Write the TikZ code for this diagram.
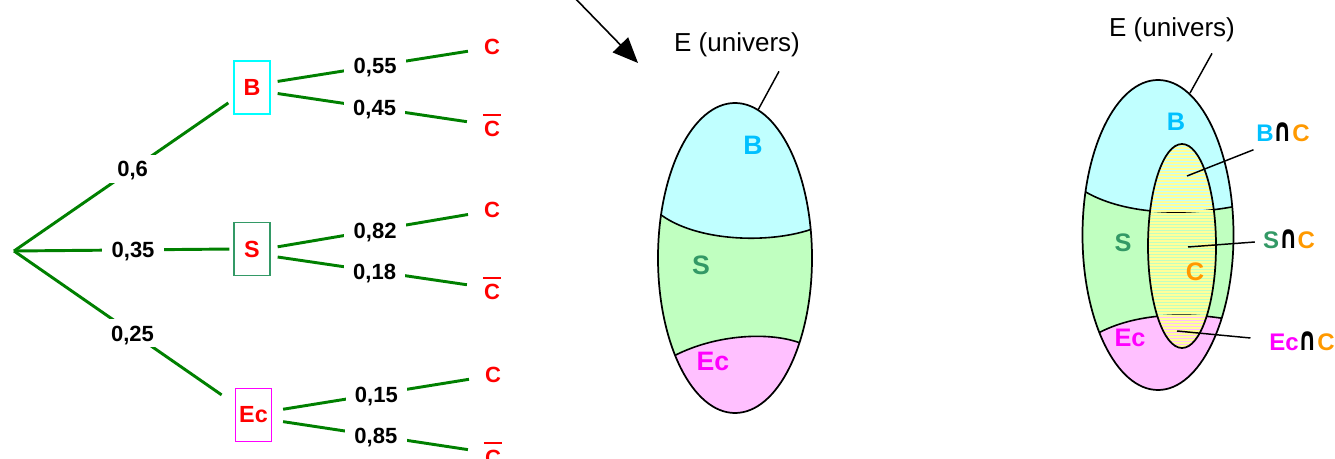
\documentclass[tikz,border=0pt]{standalone}
\usepackage{fontspec}
\usepackage{graphicx}
\setmainfont{Liberation Sans}
\newfontfamily\dejavu{DejaVu Sans}
\usetikzlibrary{arrows.meta}
\definecolor{tgreen}{RGB}{0,128,0}
\definecolor{scol}{RGB}{51,153,102}
\definecolor{bcol}{RGB}{0,192,255}
\definecolor{ecol}{RGB}{255,0,255}
\definecolor{ccol}{RGB}{255,153,0}
\definecolor{bfill}{RGB}{192,255,255}
\definecolor{sfill}{RGB}{192,255,192}
\definecolor{efill}{RGB}{255,192,255}
\definecolor{yfill}{RGB}{255,255,153}
\definecolor{tred}{RGB}{255,0,0}
\definecolor{boxcyan}{RGB}{0,255,255}
\newcommand{\barC}{\vbox{\hrule height 1.5pt\kern 4.5pt\hbox{\kern0.8pt C\kern0.8pt}}}
\newcommand{\capsym}{{\dejavu\bfseries\scalebox{0.95}[1.35]{∩}}}
\begin{document}
\begin{tikzpicture}[x=0.75pt,y=-0.75pt,
  branch/.style={draw=tgreen,line width=2.2pt},
  prob/.style={fill=white,text=black,font=\fontsize{16.5}{18}\selectfont\bfseries,text height=11.8pt,text depth=0pt,inner xsep=7pt,inner ysep=4.5pt},
  evbox/.style={draw,line width=1.1pt,minimum width=27pt,minimum height=40pt,inner sep=0pt,text=tred,font=\fontsize{17.5}{19}\selectfont\bfseries},
  leaf/.style={text=tred,font=\fontsize{16.5}{18}\selectfont\bfseries,inner sep=0pt,anchor=base},
  region/.style={font=\fontsize{20}{22}\selectfont\bfseries,inner sep=0pt},
  regionr/.style={font=\fontsize{19}{21}\selectfont\bfseries,inner sep=0pt},
  inter/.style={font=\fontsize{18}{20}\selectfont\bfseries,inner sep=0pt},
  univ/.style={font=\fontsize{19.5}{22}\selectfont,inner sep=0pt},
  leader/.style={draw=black,line width=1.1pt},
  outline/.style={draw=black,line width=1.3pt},
  bound/.style={draw=black,line width=1.2pt}
]
\useasboundingbox (0,0) rectangle (1335,459);

% ---------------- tree ----------------
\coordinate (root) at (14,251);
\node[evbox,draw=boxcyan] (B) at (252,87.5) {B};
\node[evbox,draw=scol] (S) at (252,249) {S};
\node[evbox,draw=ecol] (Ec) at (253.5,415) {Ec};

\node[leaf] (c1) at (492,55) {C};
\node[leaf] (cb1) at (492,137) {\barC};
\node[leaf] (c2) at (492,218) {C};
\node[leaf] (cb2) at (492,300) {\barC};
\node[leaf] (c3) at (493,383) {C};
\node[leaf] (cb3) at (493,465) {\barC};

\draw[branch,shorten >=4.5pt] (root) -- node[prob,pos=0.541]{0,6} ([yshift=-9pt]B.west);
\draw[branch,shorten >=3pt] (root) -- node[prob,pos=0.543]{0,35} (S.west);
\draw[branch,shorten >=12pt] (root) -- node[prob,pos=0.537]{0,25} ([yshift=8.25pt]Ec.west);

\draw[branch,shorten <=5.25pt,shorten >=12pt] ([yshift=3.75pt]B.east) -- node[prob,pos=0.49]{0,55} (c1);
\draw[branch,shorten <=5.25pt,shorten >=12pt] ([yshift=-3.75pt]B.east) -- node[prob,pos=0.49]{0,45} (cb1);
\draw[branch,shorten <=5.25pt,shorten >=12pt] ([yshift=0.75pt]S.east) -- node[prob,pos=0.49]{0,82} (c2);
\draw[branch,shorten <=5.25pt,shorten >=12pt] ([yshift=-5.25pt]S.east) -- node[prob,pos=0.49]{0,18} (cb2);
\draw[branch,shorten <=8.25pt,shorten >=12pt] ([yshift=3pt]Ec.east) -- node[prob,pos=0.49]{0,15} (c3);
\draw[branch,shorten <=8.25pt,shorten >=12pt] ([yshift=-3.75pt]Ec.east) -- node[prob,pos=0.49]{0,85} (cb3);

% ---------------- arrow ----------------
\coordinate (arrS) at (570,-7);
\coordinate (arrE) at (638,63);
\draw[line width=1.2pt,-{Triangle[length=19pt,width=16pt]}] (arrS) -- (arrE);

% ---------------- middle Venn ----------------
\begin{scope}
  \clip (735,258) ellipse [x radius=77, y radius=155];
  \fill[bfill] (600,50) rectangle (900,470);
  \fill[sfill] (655,210) .. controls (690,242) and (770,245) .. (815,228) -- (815,470) -- (655,470) -- cycle;
  \fill[efill] (670,358) .. controls (715,333) and (775,331) .. (805,345) -- (805,470) -- (670,470) -- cycle;
  \draw[bound] (655,210) .. controls (690,242) and (770,245) .. (815,228);
  \draw[bound] (670,358) .. controls (715,333) and (775,331) .. (805,345);
\end{scope}
\draw[outline] (735,258) ellipse [x radius=77, y radius=155];
\node[region,text=bcol] (mB) at (753,145) {B};
\node[region,text=scol] (mS) at (701,265) {S};
\node[region,text=ecol] (mE) at (713,361) {Ec};
\node[univ] (eu1) at (737,45) {E (univers)};
\coordinate (e1) at (758,110);
\draw[leader] ([xshift=31.5pt,yshift=-10.5pt]eu1.south) -- (e1);

% ---------------- right Venn ----------------
\begin{scope}
  \clip (1158,235) ellipse [x radius=75.5, y radius=155];
  \fill[bfill] (1050,50) rectangle (1260,420);
  \fill[sfill] (1078,187) .. controls (1110,210) and (1170,220) .. (1242,205) -- (1242,420) -- (1078,420) -- cycle;
  \fill[efill] (1090,338) .. controls (1125,315) and (1180,310) .. (1232,320) -- (1232,420) -- (1090,420) -- cycle;
  \draw[bound] (1078,187) .. controls (1110,210) and (1170,220) .. (1242,205);
  \draw[bound] (1090,338) .. controls (1125,315) and (1180,310) .. (1232,320);
\end{scope}
\begin{scope}
  \clip (1182,246) ellipse [x radius=34, y radius=102];
  \foreach \yy in {142,145,...,352} {
    \draw[yfill,line width=1.5pt] (1140,\yy) -- (1225,\yy);
  }
\end{scope}
\draw[outline] (1182,246) ellipse [x radius=34, y radius=102];
\draw[outline] (1158,235) ellipse [x radius=75.5, y radius=155];

\node[regionr,text=bcol] (rB) at (1176,122) {B};
\node[regionr,text=scol] (rS) at (1123,243) {S};
\node[regionr,text=ccol] (rC) at (1195,272) {C};
\node[regionr,text=ecol] (rE) at (1130,338) {Ec};
\node[univ] (eu2) at (1172,30) {E (univers)};
\coordinate (e2) at (1190,93);
\draw[leader] ([xshift=30pt,yshift=-8.25pt]eu2.south) -- (e2);

\node[inter] (bnc) at (1283,132) {\textcolor{bcol}{B}\textcolor{black}{\capsym}\textcolor{ccol}{C}};
\node[inter] (snc) at (1289,239) {\textcolor{scol}{S}\textcolor{black}{\capsym}\textcolor{ccol}{C}};
\node[inter] (enc) at (1302,341) {\textcolor{ecol}{Ec}\textcolor{black}{\capsym}\textcolor{ccol}{C}};
\coordinate (pb) at (1187,176);
\coordinate (ps) at (1188,247);
\coordinate (pe) at (1177,331);
\draw[leader] ([xshift=-2pt,yshift=-6pt]bnc.south west) -- (pb);
\draw[leader] ([xshift=-6pt,yshift=-2.25pt]snc.west) -- (ps);
\draw[leader] ([xshift=-14pt,yshift=2.25pt]enc.west) -- (pe);
\end{tikzpicture}
\end{document}
